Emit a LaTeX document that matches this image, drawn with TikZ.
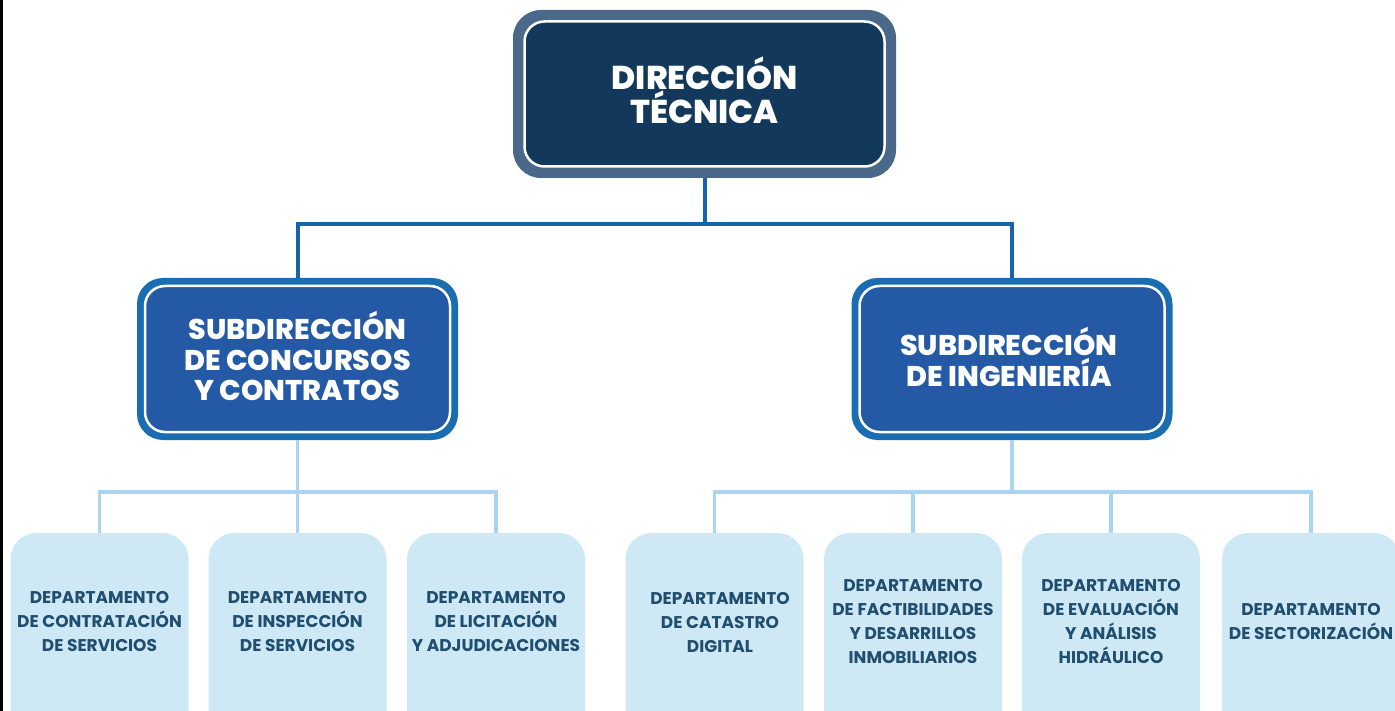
\documentclass[tikz,border=0pt]{standalone}
\usepackage{fontspec}
\setmainfont{Poppins}
\newfontfamily\heavyfont{Poppins ExtraBold}
\usepackage{tikz}

\definecolor{topborder}{HTML}{4A698A}
\definecolor{topfill}{HTML}{12385B}
\definecolor{subborder}{HTML}{1A6DB0}
\definecolor{subfill}{HTML}{2459A6}
\definecolor{mainline}{HTML}{1565A8}
\definecolor{deptline}{HTML}{A9D5F0}
\definecolor{deptfill}{HTML}{CFE8F5}
\definecolor{depttext}{HTML}{1F4E6E}

\begin{document}
\begin{tikzpicture}[x=1pt,y=-1pt,
    dirout/.style={fill=topborder, rounded corners=28pt, minimum width=383pt, minimum height=168pt},
    dirin/.style={fill=topfill, draw=white, line width=2.5pt, rounded corners=20pt,
      minimum width=360pt, minimum height=145pt},
    dirtxt/.style={text=white, align=center, font=\fontsize{33}{34}\selectfont\heavyfont},
    subout/.style={fill=subborder, rounded corners=26pt, minimum width=321pt, minimum height=162pt},
    subin/.style={fill=subfill, draw=white, line width=2.5pt, rounded corners=20pt,
      minimum width=305pt, minimum height=146pt},
    subtxt/.style={text=white, align=center, font=\fontsize{28.5}{30.5}\selectfont\heavyfont},
    dept/.style={fill=deptfill, rounded corners=26pt, minimum width=178pt, minimum height=220pt},
    depttxt/.style={text=depttext, align=center, font=\fontsize{17}{24}\selectfont\bfseries},
    mainconn/.style={draw=mainline, line width=4pt},
    deptconn/.style={draw=deptline, line width=3.5pt}]
  \useasboundingbox (0,0) rectangle (1395,711);
  \begin{scope}
    \clip (0,0) rectangle (1395,711);
    \fill[black] (0,0) rectangle (2.5,711);

    % direccion
    \node[dirout] (dir) at (704.5,94) {};
    \node[dirin] (dirbox) at (704.5,94) {};
    \node[dirtxt] (dirtext) at (704.5,90) {DIRECCIÓN\\TÉCNICA};

    % subdirecciones
    \node[subout] (sub1) at (297.5,359) {};
    \node[subin] (sub1box) at (297.5,359) {};
    \node[subtxt] (sub1text) at (297.5,356) {SUBDIRECCIÓN\\DE CONCURSOS\\Y CONTRATOS};
    \node[subout] (sub2) at (1012,359) {};
    \node[subin] (sub2box) at (1012,359) {};
    \node[subtxt] (sub2text) at (1009,357) {SUBDIRECCIÓN\\DE INGENIERÍA};

    % departamentos
    \node[dept] (d1) at (99.5,643) {};
    \node[dept] (d2) at (297.5,643) {};
    \node[dept] (d3) at (496,643) {};
    \node[dept] (d4) at (714.5,643) {};
    \node[dept] (d5) at (913,643) {};
    \node[dept] (d6) at (1111,643) {};
    \node[dept] (d7) at (1311,643) {};

    \node[depttxt] (t1) at (99.5,622) {DEPARTAMENTO\\DE CONTRATACIÓN\\DE SERVICIOS};
    \node[depttxt] (t2) at (297.5,622) {DEPARTAMENTO\\DE INSPECCIÓN\\DE SERVICIOS};
    \node[depttxt] (t3) at (496,622) {DEPARTAMENTO\\DE LICITACIÓN\\Y ADJUDICACIONES};
    \node[depttxt] (t4) at (720,622) {DEPARTAMENTO\\DE CATASTRO\\DIGITAL};
    \node[depttxt] (t5) at (913,622) {DEPARTAMENTO\\DE FACTIBILIDADES\\Y DESARRILLOS\\INMOBILIARIOS};
    \node[depttxt] (t6) at (1111,622) {DEPARTAMENTO\\DE EVALUACIÓN\\Y ANÁLISIS\\HIDRÁULICO};
    \node[depttxt] (t7) at (1311,622) {DEPARTAMENTO\\DE SECTORIZACIÓN};

    % conectores
    \coordinate (j1) at (704.5,224);
    \coordinate (j2) at (297.5,492);
    \coordinate (j3) at (1012,492);
    \draw[mainconn] (dir.south) -- (j1);
    \draw[mainconn] (sub1.north) |- (j1) -| (sub2.north);
    \draw[deptconn] (sub1.south) -- (j2);
    \draw[deptconn] (sub2.south) -- (j3);
    \foreach \d in {d1,d2,d3}
      \draw[deptconn] (j2) -| (\d.north);
    \foreach \d in {d4,d5,d6,d7}
      \draw[deptconn] (j3) -| (\d.north);
  \end{scope}
\end{tikzpicture}
\end{document}
